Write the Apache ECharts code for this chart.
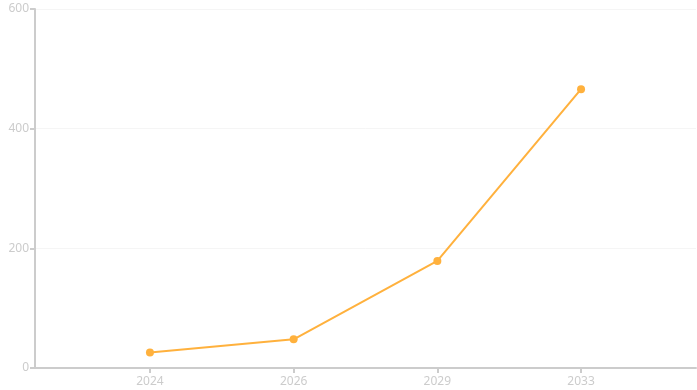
<!DOCTYPE html>
<html><head><meta charset="utf-8">
<script src="https://cdn.jsdelivr.net/npm/echarts@6/dist/echarts.min.js"></script>
<style>html,body{margin:0;padding:0;background:#fff}#c{width:697px;height:390px}</style>
</head><body><div id="c"></div>
<script>
const years = ['2024', '2026', '2029', '2033'];
const values = [26, 48, 179, 466];
const yTicks = [0, 200, 400, 600];

const idx = years.map((_, i) => i);
const chart = echarts.init(document.getElementById('c'), null, {renderer: 'canvas'});
chart.setOption({
  animation: false,
  backgroundColor: '#ffffff',
  grid: {left: 35, right: 1, top: 9, bottom: 22},
  xAxis: {
    type: 'value', min: -0.8, max: 3.8,
    axisLine: {onZero: false, lineStyle: {color: '#cccccc', width: 2}},
    axisTick: {show: true, customValues: idx, length: 5, lineStyle: {color: '#cccccc', width: 2}},
    axisLabel: {customValues: idx, formatter: v => years[Math.round(v)] || '', color: '#cccccc', fontSize: 12, fontFamily: 'Noto Sans', margin: 8},
    splitLine: {show: false}
  },
  yAxis: {
    type: 'value', min: yTicks[0], max: yTicks[yTicks.length - 1], interval: 200,
    axisLine: {show: true, onZero: false, lineStyle: {color: '#cccccc', width: 2}},
    axisTick: {show: true, length: 5, lineStyle: {color: '#cccccc', width: 2}},
    axisLabel: {color: '#cccccc', fontSize: 12, fontFamily: 'Noto Sans', margin: 6},
    splitLine: {show: true, lineStyle: {color: '#f5f5f5', width: 1}}
  },
  series: [{
    type: 'line',
    data: values.map((v, i) => [i, v]),
    symbol: 'circle', symbolSize: 8,
    itemStyle: {color: '#FFB13D'},
    lineStyle: {color: '#FFB13D', width: 2}
  }]
});
</script></body></html>
